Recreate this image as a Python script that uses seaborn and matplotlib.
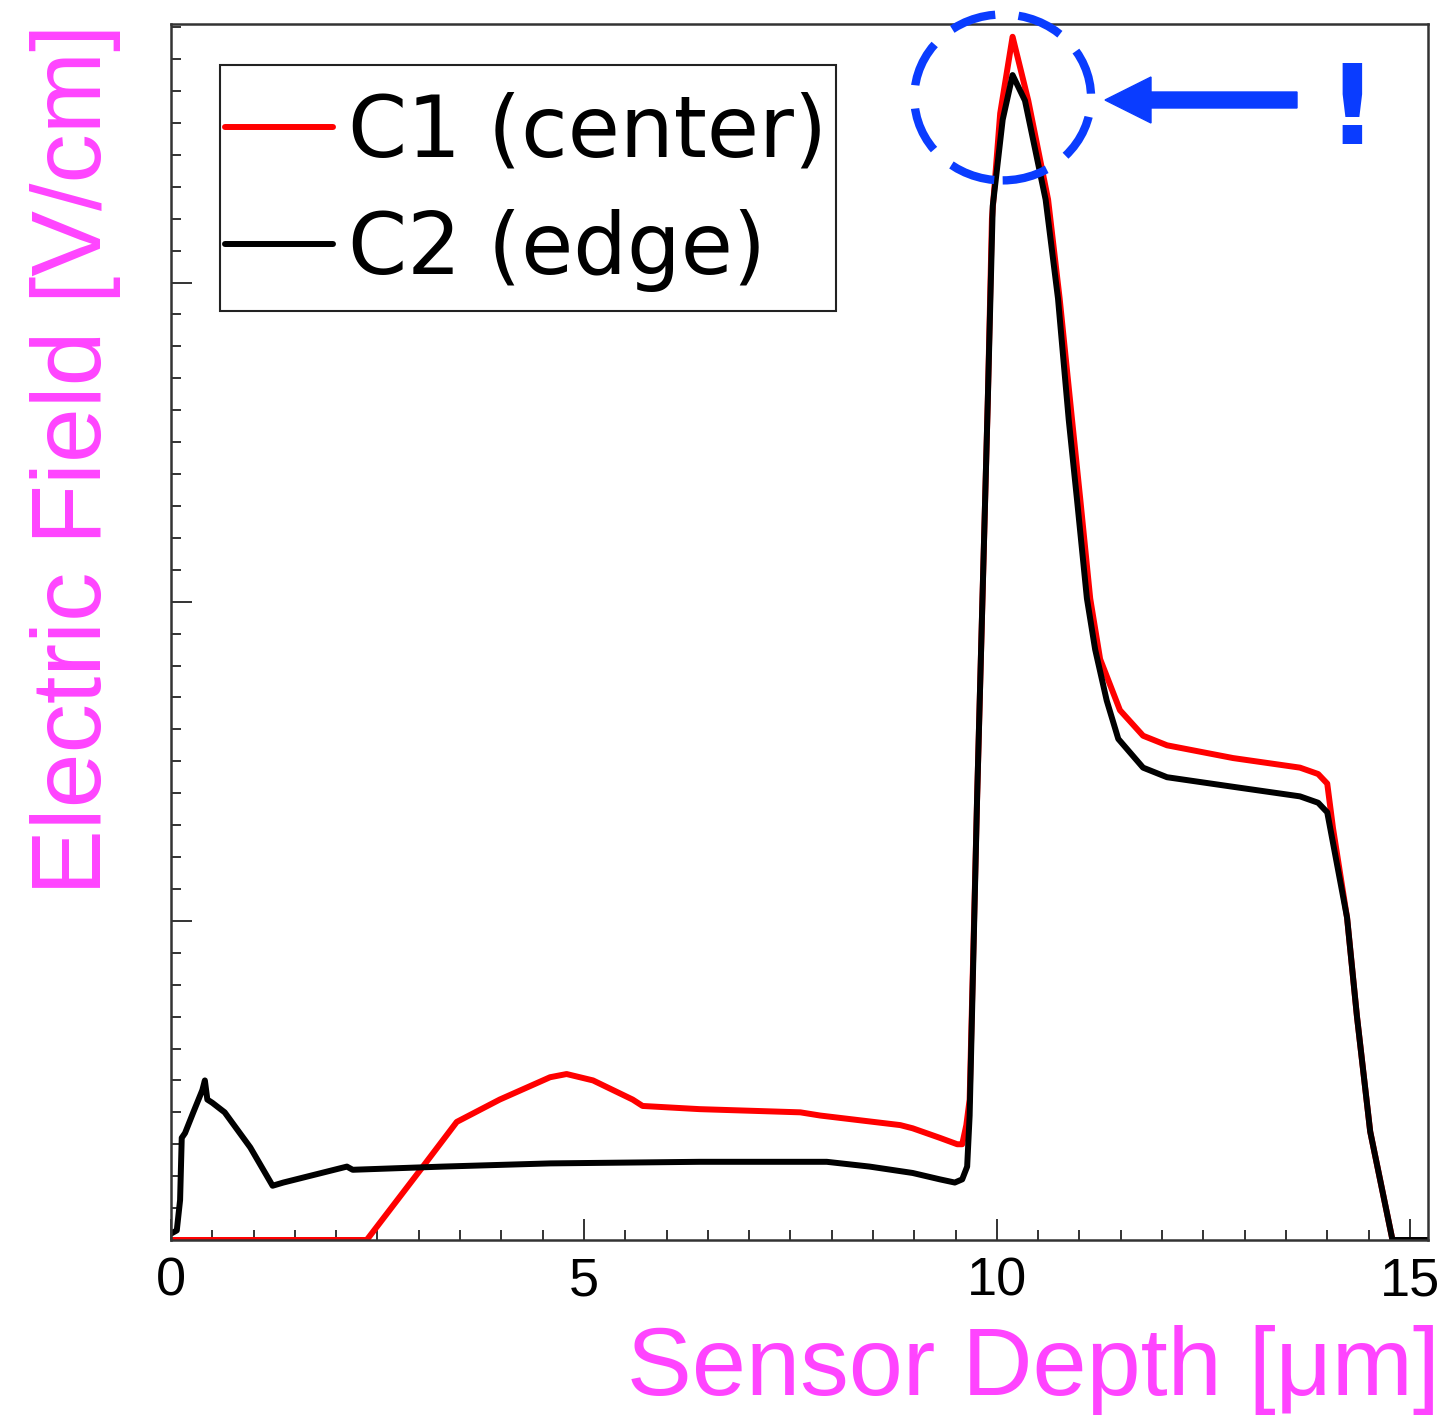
import numpy as np
import pandas as pd
import seaborn as sns
import matplotlib
matplotlib.use("Agg")
import matplotlib.pyplot as plt
from matplotlib.patches import Ellipse, FancyArrow, Rectangle
from matplotlib.ticker import MultipleLocator, NullFormatter

# Field profiles along the sensor depth (arbitrary field units, major tick = 1)
depth_c1 = [0.0, 2.37, 3.05, 3.46, 3.98, 4.59, 4.79, 5.11, 5.59, 5.71, 6.40, 7.62,
            7.86, 8.83, 8.98, 9.31, 9.52, 9.58, 9.63, 9.67, 9.76, 9.89, 9.94, 10.04,
            10.19, 10.38, 10.62, 10.76, 10.91, 11.01, 11.13, 11.25, 11.49, 11.77,
            12.06, 12.86, 13.67, 13.89, 14.00, 14.07, 14.24, 14.36, 14.52, 14.79, 15.22]
field_c1 = [0.0, 0.0, 0.23, 0.37, 0.44, 0.51, 0.52, 0.50, 0.44, 0.42, 0.41, 0.40,
            0.39, 0.36, 0.35, 0.32, 0.30, 0.30, 0.36, 0.44, 1.38, 2.63, 3.20, 3.53,
            3.77, 3.57, 3.26, 2.95, 2.57, 2.32, 2.01, 1.82, 1.66, 1.58,
            1.55, 1.51, 1.48, 1.46, 1.43, 1.29, 1.01, 0.70, 0.34, 0.0, 0.0]

depth_c2 = [0.0, 0.07, 0.11, 0.13, 0.17, 0.27, 0.38, 0.41, 0.44, 0.50, 0.65, 0.96,
            1.23, 1.36, 2.13, 2.20, 3.29, 4.59, 6.40, 7.94, 8.46, 8.98, 9.31, 9.49,
            9.58, 9.64, 9.67, 9.76, 9.89, 9.95, 10.07, 10.19, 10.34, 10.59, 10.74,
            10.87, 10.97, 11.09, 11.19, 11.33, 11.47, 11.77, 12.06, 12.86, 13.67,
            13.89, 14.00, 14.24, 14.36, 14.52, 14.79, 15.22]
field_c2 = [0.02, 0.03, 0.125, 0.32, 0.335, 0.40, 0.47, 0.50, 0.44, 0.43, 0.40, 0.29,
            0.17, 0.18, 0.23, 0.22, 0.23, 0.24, 0.245, 0.245, 0.23, 0.21, 0.19, 0.18,
            0.19, 0.23, 0.39, 1.38, 2.63, 3.24, 3.51, 3.65, 3.57, 3.26, 2.95,
            2.57, 2.32, 2.01, 1.85, 1.69, 1.57, 1.48, 1.45, 1.42, 1.39,
            1.37, 1.34, 1.01, 0.70, 0.34, 0.0, 0.0]

labels = ["C1 (center)", "C2 (edge)"]
colors = ["#ff0000", "#000000"]
x_ticks = [0, 5, 10, 15]

df = pd.concat([
    pd.DataFrame({"depth": depth_c1, "field": field_c1, "sensor": labels[0]}),
    pd.DataFrame({"depth": depth_c2, "field": field_c2, "sensor": labels[1]}),
], ignore_index=True)

sns.set_theme(style="white")
plt.rcParams["font.family"] = ["Liberation Sans", "DejaVu Sans"]

W, H = 1445, 1418
fig = plt.figure(figsize=(W / 100, H / 100), dpi=100)
ax = fig.add_axes([171 / W, 1 - 1240 / H, (1428 - 171) / W, (1240 - 24) / H])

sns.lineplot(data=df, x="depth", y="field", hue="sensor", hue_order=labels,
             palette=dict(zip(labels, colors)), sort=False, estimator=None,
             linewidth=4.3, ax=ax, legend=True)

ax.set_xlim(0, 15.22)
ax.set_ylim(0, 3.81)

# frame and inward ticks
for sp in ax.spines.values():
    sp.set_visible(True)
    sp.set_color("#333333")
    sp.set_linewidth(1.8)
ax.xaxis.set_major_locator(MultipleLocator(5))
ax.xaxis.set_minor_locator(MultipleLocator(0.5))
ax.yaxis.set_major_locator(MultipleLocator(1))
ax.yaxis.set_minor_locator(MultipleLocator(0.1))
ax.yaxis.set_major_formatter(NullFormatter())
ax.set_xticks(x_ticks)
ax.set_xticklabels([str(t) for t in x_ticks])
ax.tick_params(which="both", direction="in", color="#333333", width=1.4,
               bottom=True, left=True, top=False, right=False)
ax.tick_params(which="major", length=15)
ax.tick_params(which="minor", length=7)
ax.tick_params(axis="x", which="major", labelsize=39, pad=12, labelcolor="black")

magenta = "#ff44ff"
ax.set_xlabel("Sensor Depth [μm]", fontsize=70, color=magenta, loc="right")
ax.xaxis.set_label_coords(1.0095, -0.070)
ax.set_ylabel("Electric Field [V/cm]", fontsize=71, color=magenta, loc="top")
ax.yaxis.set_label_coords(-0.040, 1.0)

# legend: entries placed without their own frame, boxed by a rectangle
handles, _ = ax.get_legend_handles_labels()
leg = ax.legend(handles[:2], labels, loc="upper left",
                bbox_to_anchor=(225 / W, 1 - 92 / H), bbox_transform=fig.transFigure,
                prop={"family": "DejaVu Sans", "size": 61}, frameon=False,
                borderpad=0, handlelength=1.28, handletextpad=0.17,
                labelspacing=0.40, borderaxespad=0)
for t in leg.get_texts():
    t.set_color("black")
for ln in leg.get_lines():
    ln.set_linewidth(4.3)
fig.add_artist(Rectangle((220 / W, 1 - 311 / H), (836 - 220) / W, (311 - 65) / H,
                         fill=False, edgecolor="#222222", linewidth=1.5,
                         transform=fig.transFigure))

# highlight the C1 peak
blue = "#0a3cff"
ipk = int(np.argmax(field_c1))
ell = Ellipse((depth_c1[ipk] - 0.12, field_c1[ipk] - 0.19), width=2.14, height=0.52,
              fill=False, edgecolor=blue, linewidth=6,
              linestyle=(0, (5.5, 2.8)), clip_on=False, zorder=5)
ax.add_patch(ell)
fig.add_artist(FancyArrow(1297 / W, 1 - 100 / H, -192 / W, 0,
                          width=16 / H, head_width=46 / H, head_length=46 / W,
                          length_includes_head=True, color=blue,
                          transform=fig.transFigure))
fig.text(1352 / W, 1 - 113 / H, "!", fontsize=80, fontweight="bold", color=blue,
         family="DejaVu Sans", ha="center", va="center")

fig.savefig("out.png", dpi=100)
